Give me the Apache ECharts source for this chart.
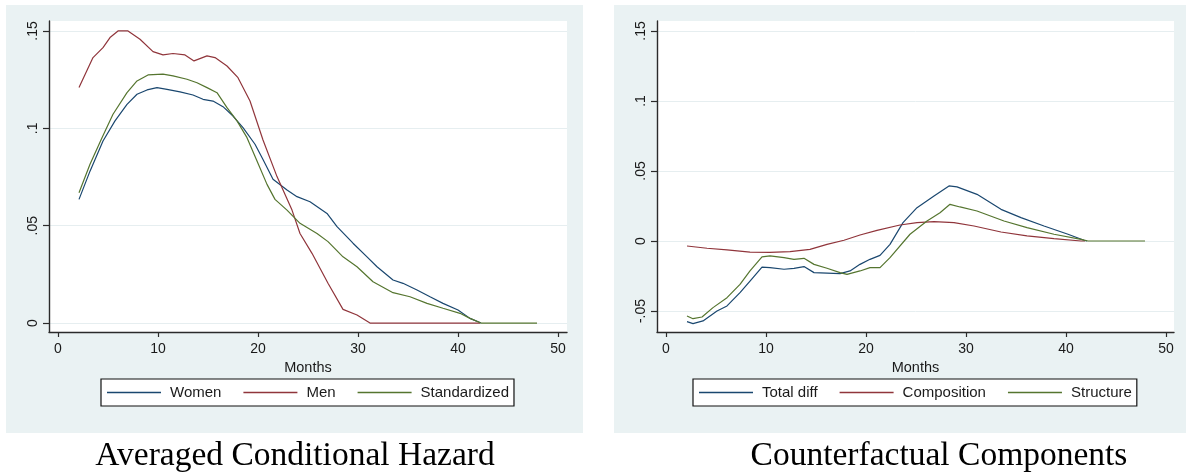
<!DOCTYPE html>
<html><head><meta charset="utf-8">
<script src="https://cdn.jsdelivr.net/npm/echarts@6/dist/echarts.min.js"></script>
<style>html,body{margin:0;padding:0;background:#fff}#c{width:1186px;height:472px}</style>
</head><body><div id="c"></div>
<script>
// ---- Data (month, value) ----
const women = [[2.1,.0635],[3.2,.078],[4.5,.0935],[5.7,.1038],[6.9,.1123],[7.9,.1175],[8.9,.1197],[9.9,.1209],[10.9,.120],[12.2,.1187],[13.5,.1171],[14.5,.1149],[15.5,.114],[16.5,.1111],[17.5,.1063],[18.5,.1003],[19.7,.0918],[20.5,.0840],[21.5,.0738],[22.9,.0683],[23.9,.0649],[25.2,.0623],[26.9,.0563],[27.9,.0495],[29.5,.041],[30.9,.034],[31.9,.0289],[33.5,.0221],[34.5,.0204],[35.9,.017],[37.2,.0135],[38.5,.0101],[40.0,.0067],[41.2,.0024],[42.3,0]];
const men = [[2.1,.1209],[3.5,.1363],[4.5,.1414],[5.2,.1466],[6.0,.150],[7.0,.150],[8.2,.1457],[9.5,.1394],[10.5,.1377],[11.5,.1384],[12.7,.1377],[13.6,.1346],[14.9,.1372],[15.7,.1363],[16.9,.132],[18.0,.126],[19.2,.114],[20.5,.094],[21.9,.0752],[23.4,.058],[24.2,.046],[25.4,.0358],[27.0,.0204],[28.5,.007],[29.9,.0041],[31.2,0],[42.2,0]];
const standardized = [[2.1,.0669],[3.2,.0815],[4.4,.0952],[5.5,.1072],[6.9,.1183],[7.9,.1243],[9.0,.1274],[10.5,.1278],[11.5,.1269],[12.9,.1252],[13.9,.1234],[14.9,.1209],[15.9,.1183],[16.9,.1106],[17.9,.1038],[18.9,.0952],[19.9,.0832],[20.9,.0712],[21.7,.0635],[22.9,.058],[24.2,.0512],[25.9,.046],[27.0,.0418],[28.5,.034],[29.9,.0289],[31.5,.0212],[33.5,.0156],[35.2,.0135],[36.9,.0101],[38.5,.0076],[40.2,.005],[41.2,.0024],[42.3,0],[47.9,0]];
const totalDiff = [[2.1,-.0576],[2.7,-.059],[3.7,-.0571],[5.1,-.050],[6.1,-.0464],[7.4,-.0369],[8.4,-.0286],[9.6,-.0186],[10.4,-.019],[11.8,-.0202],[12.8,-.0195],[13.8,-.0183],[14.8,-.0226],[16.1,-.0229],[17.4,-.0233],[18.4,-.0214],[19.4,-.0167],[20.4,-.0131],[21.4,-.0103],[22.4,-.0024],[23.7,.0131],[25.1,.0238],[26.8,.0321],[28.3,.0393],[29.1,.0386],[31.1,.0333],[33.5,.0226],[35.5,.0167],[37.8,.0107],[40.2,.0048],[41.8,.0005],[42.1,0]];
const composition = [[2.1,-.0036],[4.1,-.0052],[6.1,-.0064],[8.4,-.0079],[10.4,-.0081],[12.4,-.0076],[14.4,-.006],[16.1,-.0024],[17.8,.0005],[19.4,.0043],[21.1,.0076],[23.4,.0114],[25.1,.0131],[26.8,.0138],[28.8,.0131],[30.8,.0107],[33.5,.0064],[36.1,.0036],[38.8,.0017],[41.5,0],[41.9,0]];
const structure = [[2.1,-.0536],[2.7,-.0555],[3.6,-.0543],[4.7,-.0476],[6.1,-.0405],[7.4,-.031],[8.4,-.0214],[9.6,-.0114],[10.4,-.0107],[11.8,-.0119],[12.8,-.0131],[13.8,-.0124],[14.8,-.0167],[16.1,-.0195],[17.4,-.0226],[18.1,-.0238],[19.4,-.0214],[20.4,-.019],[21.4,-.019],[22.4,-.0119],[24.4,.0048],[26.1,.0143],[27.4,.0202],[28.4,.0262],[29.4,.0243],[31.1,.0214],[33.8,.0143],[36.1,.0095],[38.8,.0048],[41.5,.0012],[42.2,0],[47.9,0]];

const xTicks = [0,10,20,30,40,50];
const yTicksLeft = [0,0.05,0.1,0.15];
const yTicksRight = [-0.05,0,0.05,0.1,0.15];
const titles = ['Averaged Conditional Hazard','Counterfactual Components'];

// ---- Styles ----
const NAVY='#1a476f', MAROON='#90353b', GREEN='#55752f', PANEL='#eaf2f3';
const AXC='#2b2b2b';
const fmt = v => { if (Math.abs(v)<1e-9) return '0'; return String(+v.toFixed(2)).replace('0.','.'); };

function xAx(idx){
  return {type:'value', gridIndex:idx, min:-0.9, max: idx===0?50.9:50.8,
    name:'Months', nameLocation:'middle', nameGap:24,
    nameTextStyle:{fontFamily:'Liberation Sans', fontSize:14.5, color:'#1a1a1a'},
    axisLine:{onZero:false, lineStyle:{color:AXC,width:1.4}},
    axisTick:{customValues:xTicks, length:5, lineStyle:{color:AXC,width:1.2}},
    axisLabel:{customValues:xTicks, margin:10, fontFamily:'Liberation Sans', fontSize:14, color:'#1a1a1a'},
    splitLine:{show:false}};
}
function yAx(idx, ticks, min, max){
  return {type:'value', gridIndex:idx, min:min, max:max,
    axisLine:{show:true, onZero:false, lineStyle:{color:AXC,width:1.4}},
    axisTick:{show:true, customValues:ticks, length:6, lineStyle:{color:AXC,width:1.2}},
    axisLabel:{customValues:ticks, rotate:90, margin:9, formatter:fmt, fontFamily:'Liberation Sans', fontSize:14, color:'#1a1a1a'},
    splitLine:{show:true, lineStyle:{color:'#e6eef0', width:1}}};
}
function ser(name, data, color, xi){
  return {type:'line', name:name, data:data, xAxisIndex:xi, yAxisIndex:xi, symbol:'none', showSymbol:false,
    legendIcon:'rect',
    lineStyle:{color:color, width:1.2}, itemStyle:{color:color}, animation:false, z:3};
}
const legendCommon = {orient:'horizontal', top:379, backgroundColor:'#fff', borderColor:'#111', borderWidth:1.2,
  borderRadius:0, padding:[6,5,6,6], itemGap:22, itemWidth:54, itemHeight:1.3, icon:'rect',
  itemStyle:{borderWidth:0},
  textStyle:{fontFamily:'Liberation Sans', fontSize:15, color:'#1a1a1a', padding:[0,0,0,4]}};

const chart = echarts.init(document.getElementById('c'), null, {renderer:'canvas'});
chart.setOption({
  backgroundColor:'#fff', animation:false,
  graphic:[
    {type:'rect', z:-100, shape:{x:6,y:5,width:577,height:428}, style:{fill:PANEL}},
    {type:'rect', z:-100, shape:{x:614,y:5,width:572,height:428}, style:{fill:PANEL}},
    {type:'text', x:295, y:456, style:{text:titles[0], fontFamily:'Liberation Serif', fontSize:33.5, fill:'#000', align:'center', verticalAlign:'middle'}},
    {type:'text', x:939, y:456, style:{text:titles[1], fontFamily:'Liberation Serif', fontSize:33.5, fill:'#000', align:'center', verticalAlign:'middle'}}
  ],
  grid:[
    {left:49, top:21, width:518, height:311, show:true, backgroundColor:'#fff', borderWidth:0, containLabel:false},
    {left:657, top:21, width:517, height:311, show:true, backgroundColor:'#fff', borderWidth:0, containLabel:false}
  ],
  xAxis:[xAx(0), xAx(1)],
  yAxis:[yAx(0, yTicksLeft, -0.0046, 0.1551), yAx(1, yTicksRight, -0.065, 0.1571)],
  legend:[
    Object.assign({}, legendCommon, {left:101, data:['Women','Men','Standardized']}),
    Object.assign({}, legendCommon, {left:693, data:['Total diff','Composition','Structure']})
  ],
  series:[
    ser('Women', women, NAVY, 0), ser('Men', men, MAROON, 0), ser('Standardized', standardized, GREEN, 0),
    ser('Total diff', totalDiff, NAVY, 1), ser('Composition', composition, MAROON, 1), ser('Structure', structure, GREEN, 1)
  ]
});
</script></body></html>
